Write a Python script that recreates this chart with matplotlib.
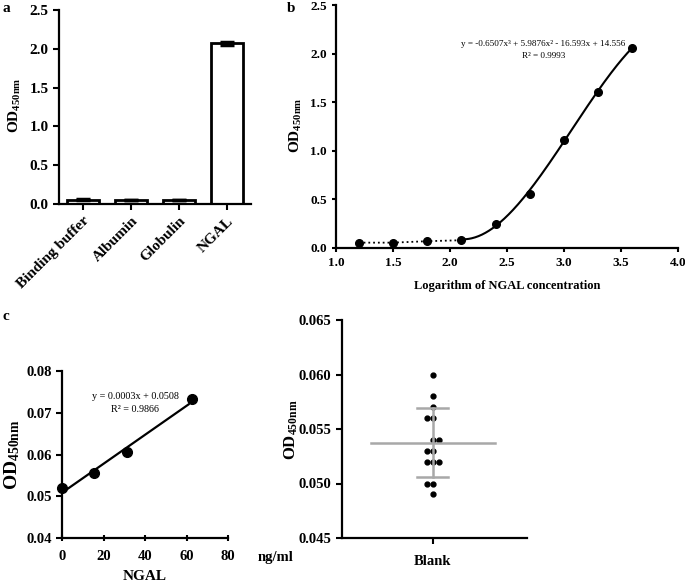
import numpy as np
import matplotlib
matplotlib.use("Agg")
import matplotlib.pyplot as plt
from matplotlib.ticker import FormatStrFormatter

plt.rcParams['font.family'] = ['Liberation Serif', 'DejaVu Serif']
plt.rcParams['mathtext.fontset'] = 'custom'
plt.rcParams['mathtext.rm'] = 'Liberation Serif'
plt.rcParams['mathtext.bf'] = 'Liberation Serif:bold'
plt.rcParams['mathtext.it'] = 'Liberation Serif:italic'

# ---- data ----
# panel a
cat_a = ["Binding buffer", "Albumin", "Globulin", "NGAL"]
od_a = [0.055, 0.053, 0.051, 2.07]
err_a = [0.004, 0.004, 0.003, 0.02]
# panel b
log_conc = [1.2, 1.5, 1.8, 2.1, 2.4, 2.7, 3.0, 3.3, 3.6]
od_b = [0.055, 0.055, 0.07, 0.08, 0.25, 0.56, 1.11, 1.61, 2.06]
cubic_coef = [-0.6507, 5.9876, -16.593, 14.556]
eq_b = "y = -0.6507x³ + 5.9876x² - 16.593x + 14.556"
r2_b = "R² = 0.9993"
# panel c
ngal_c = [0, 15.625, 31.25, 62.5]
od_c = [0.052, 0.0555, 0.0605, 0.0733]
eq_c = "y = 0.0003x + 0.0508"
r2_c = "R² = 0.9866"
# panel d
blank_vals = [0.060, 0.058, 0.057, 0.056, 0.056, 0.054, 0.054, 0.053, 0.053,
              0.052, 0.052, 0.052, 0.050, 0.050, 0.049]

W, H = 685, 582
fig = plt.figure(figsize=(W / 100, H / 100), dpi=100)

def rect(l, t, r, b):
    return [l / W, 1 - b / H, (r - l) / W, (b - t) / H]

def fx(px):
    return px / W

def fy(py):
    return 1 - py / H

BOLD = dict(fontweight='bold')
ylab = r'OD$_{\mathbf{450nm}}$'

def style(ax, size=10):
    for s in ['top', 'right']:
        ax.spines[s].set_visible(False)
    for s in ['left', 'bottom']:
        ax.spines[s].set_linewidth(1.6)
    ax.tick_params(width=1.5, length=4, labelsize=size, direction='out')
    for lab in ax.get_xticklabels() + ax.get_yticklabels():
        lab.set_fontweight('bold')

# ---- panel a ----
ax = fig.add_axes(rect(59, 10, 251, 204))
xa = np.arange(len(cat_a))
ax.bar(xa, od_a, width=0.68, color='white', edgecolor='black', linewidth=2,
       yerr=err_a, error_kw=dict(ecolor='black', elinewidth=2, capsize=5, capthick=2.5))
ax.set_xlim(-0.5, 3.5)
ax.set_ylim(0, 2.5)
ax.set_yticks([0, 0.5, 1.0, 1.5, 2.0, 2.5])
ax.yaxis.set_major_formatter(FormatStrFormatter('%.1f'))
ax.set_xticks(xa)
ax.set_xticklabels(cat_a, rotation=45, ha='right', rotation_mode='anchor')
style(ax, 11)
fig.text(fx(15), fy(105), ylab, rotation=90, ha='center', va='center', fontsize=11, **BOLD)

# ---- panel b ----
ax = fig.add_axes(rect(336, 5, 678, 248))
ax.plot(log_conc[:4], od_b[:4], ':', color='black', lw=1.3)
xf = np.linspace(log_conc[3], log_conc[-1], 200)
ax.plot(xf, np.polyval(cubic_coef, xf), '-', color='black', lw=1.5)
ax.plot(log_conc, od_b, 'o', color='black', ms=5.5)
ax.set_xlim(1.0, 4.0)
ax.set_ylim(0, 2.5)
ax.set_xticks(np.arange(1.0, 4.01, 0.5))
ax.set_yticks(np.arange(0, 2.51, 0.5))
ax.xaxis.set_major_formatter(FormatStrFormatter('%.1f'))
ax.yaxis.set_major_formatter(FormatStrFormatter('%.1f'))
style(ax, 9.5)
ax.tick_params(length=3)
ax.text(2.82, 2.10, eq_b, ha='center', va='center', fontsize=6.6)
ax.text(2.82, 1.98, r2_b, ha='center', va='center', fontsize=6.6)
fig.text(fx(507), fy(286), "Logarithm of NGAL concentration", ha='center', va='center',
         fontsize=9, **BOLD)
fig.text(fx(296), fy(125), ylab, rotation=90, ha='center', va='center', fontsize=11, **BOLD)

# ---- panel c ----
ax = fig.add_axes(rect(62, 371, 228, 538))
slope, icpt = np.polyfit(ngal_c, od_c, 1)
xl = np.array([0, 61])
ax.plot(xl, slope * xl + icpt, '-', color='black', lw=1.6)
ax.plot(ngal_c, od_c, 'o', color='black', ms=7, clip_on=False)
ax.set_xlim(0, 80)
ax.set_ylim(0.04, 0.08)
ax.set_xticks([0, 20, 40, 60, 80])
ax.set_yticks([0.04, 0.05, 0.06, 0.07, 0.08])
ax.yaxis.set_major_formatter(FormatStrFormatter('%.2f'))
style(ax, 10.5)
ax.tick_params(axis='x', direction='inout', length=5)
ax.tick_params(axis='x', pad=6)
ax.text(35.2, 0.0738, eq_c, ha='center', va='center', fontsize=7.3)
ax.text(35.2, 0.0707, r2_c, ha='center', va='center', fontsize=7.3)
fig.text(fx(145), fy(577), "NGAL", ha='center', va='center', fontsize=11, **BOLD)
fig.text(fx(276), fy(557), "ng/ml", ha='center', va='center', fontsize=10.5, **BOLD)
fig.text(fx(12), fy(455), ylab, rotation=90, ha='center', va='center', fontsize=14, **BOLD)

# ---- panel d ----
ax = fig.add_axes(rect(342, 320, 527, 538))
jit = [0, 0, 0, -0.06, 0, 0, 0.065, -0.06, 0, -0.06, 0, 0.065, -0.06, 0, 0]
ax.plot(np.array(jit), blank_vals, 'o', color='black', ms=3.5, zorder=2)
m = np.mean(blank_vals)
sd = np.std(blank_vals, ddof=1)
gray = '#a8a8a8'
ax.plot([-0.67, 0.67], [m, m], color=gray, lw=1.8, zorder=3)
ax.plot([0, 0], [m - sd, m + sd], color=gray, lw=1.8, zorder=3)
ax.plot([-0.17, 0.17], [m + sd, m + sd], color=gray, lw=1.8, zorder=3)
ax.plot([-0.17, 0.17], [m - sd, m - sd], color=gray, lw=1.8, zorder=3)
ax.set_xlim(-0.98, 1.02)
ax.set_ylim(0.045, 0.065)
ax.set_yticks([0.045, 0.050, 0.055, 0.060, 0.065])
ax.yaxis.set_major_formatter(FormatStrFormatter('%.3f'))
ax.set_xticks([0])
ax.set_xticklabels(["Blank"])
style(ax, 10.5)
ax.tick_params(axis='x', pad=8)
fig.text(fx(291), fy(430), ylab, rotation=90, ha='center', va='center', fontsize=12, **BOLD)

# panel letters
fig.text(fx(6), fy(8), "a", ha='center', va='center', fontsize=11, **BOLD)
fig.text(fx(291), fy(8), "b", ha='center', va='center', fontsize=11, **BOLD)
fig.text(fx(6), fy(316), "c", ha='center', va='center', fontsize=11, **BOLD)

fig.savefig("out.png", dpi=100)
